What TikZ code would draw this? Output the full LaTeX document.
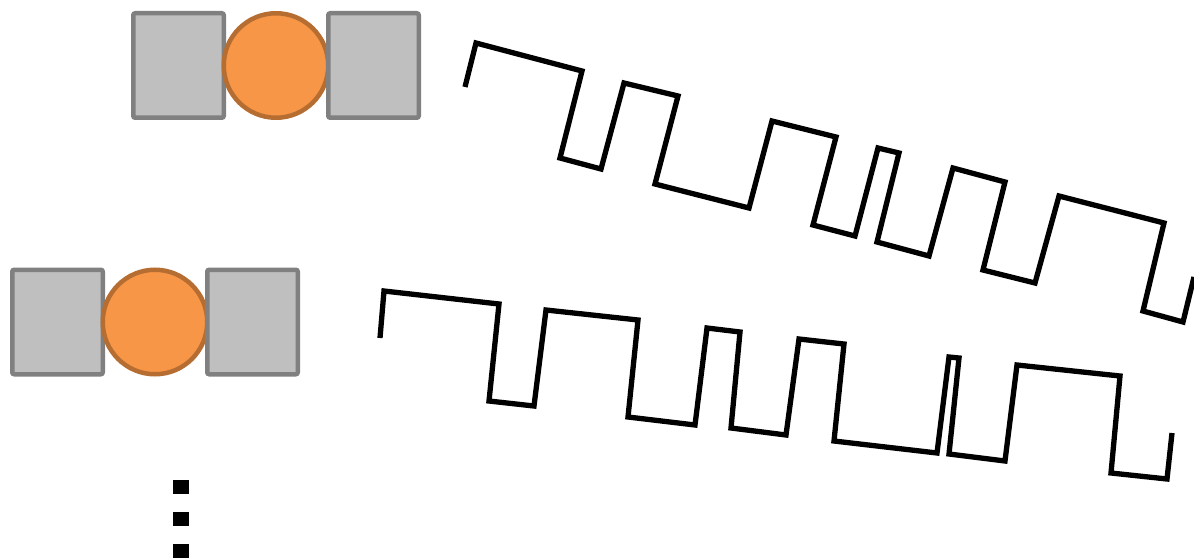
\documentclass[tikz,border=0pt]{standalone}
\usepackage{tikz}
\usetikzlibrary{positioning}
\definecolor{padfill}{HTML}{BFBFBF}
\definecolor{paddraw}{HTML}{808080}
\definecolor{ionfill}{HTML}{F79646}
\definecolor{iondraw}{HTML}{B66D31}
\tikzstyle{pad} = [rectangle, rounded corners=2pt, minimum width=90.5pt,
    minimum height=104.5pt, inner sep=0pt, outer sep=0pt, fill=padfill,
    draw=paddraw, line width=4.5pt]
\tikzstyle{ion} = [circle, minimum size=104.5pt, inner sep=0pt, outer sep=0pt,
    fill=ionfill, draw=iondraw, line width=4.5pt]
\tikzstyle{vdot} = [rectangle, minimum width=16pt, minimum height=14.5pt,
    inner sep=0pt, fill=black]
\tikzstyle{wave} = [line width=5.3pt, black, line join=miter]

\begin{document}
\begin{tikzpicture}[x=1pt, y=-1pt]
  \useasboundingbox (0,0) rectangle (1194,559);
  % upper device
  \node[pad] (tl) at (178.5,65.5) {};
  \node[ion, right=0pt of tl] (tc) {};
  \node[pad, right=0pt of tc] (tr) {};
  % lower device
  \node[pad] (bl) at (57.5,322) {};
  \node[ion, right=0pt of bl] (bc) {};
  \node[pad, right=0pt of bc] (br) {};
  % more devices
  \node[vdot] (d1) at (181,487) {};
  \node[vdot, below=17pt of d1] (d2) {};
  \node[vdot, below=17pt of d2] (d3) {};

  % upper signal
  \draw[wave] (465,87) -- (476,43) -- (582,71) -- (560,158) -- (601,169)
    -- (624,83) -- (678,96) -- (655,184) -- (749,208) -- (772,121)
    -- (836,137) -- (813,225) -- (855,236) -- (878,148) -- (899,153)
    -- (877,242) -- (929,256) -- (953,168) -- (1005,182) -- (983,270)
    -- (1035,283) -- (1059,196) -- (1164,223) -- (1143,311) -- (1183,322)
    -- (1194,277);
  % lower signal
  \draw[wave] (380,338) -- (384,291) -- (499,304) -- (489,401) -- (534,406)
    -- (546,310) -- (638,320) -- (628,417) -- (695,425) -- (707,328)
    -- (740,332) -- (731,428) -- (786,435) -- (799,339) -- (844,344)
    -- (834,441) -- (937,453) -- (949,357) -- (959,358) -- (949,454)
    -- (1005,461) -- (1017,365) -- (1120,376) -- (1111,473) -- (1167,479)
    -- (1172,433);
\end{tikzpicture}
\end{document}
